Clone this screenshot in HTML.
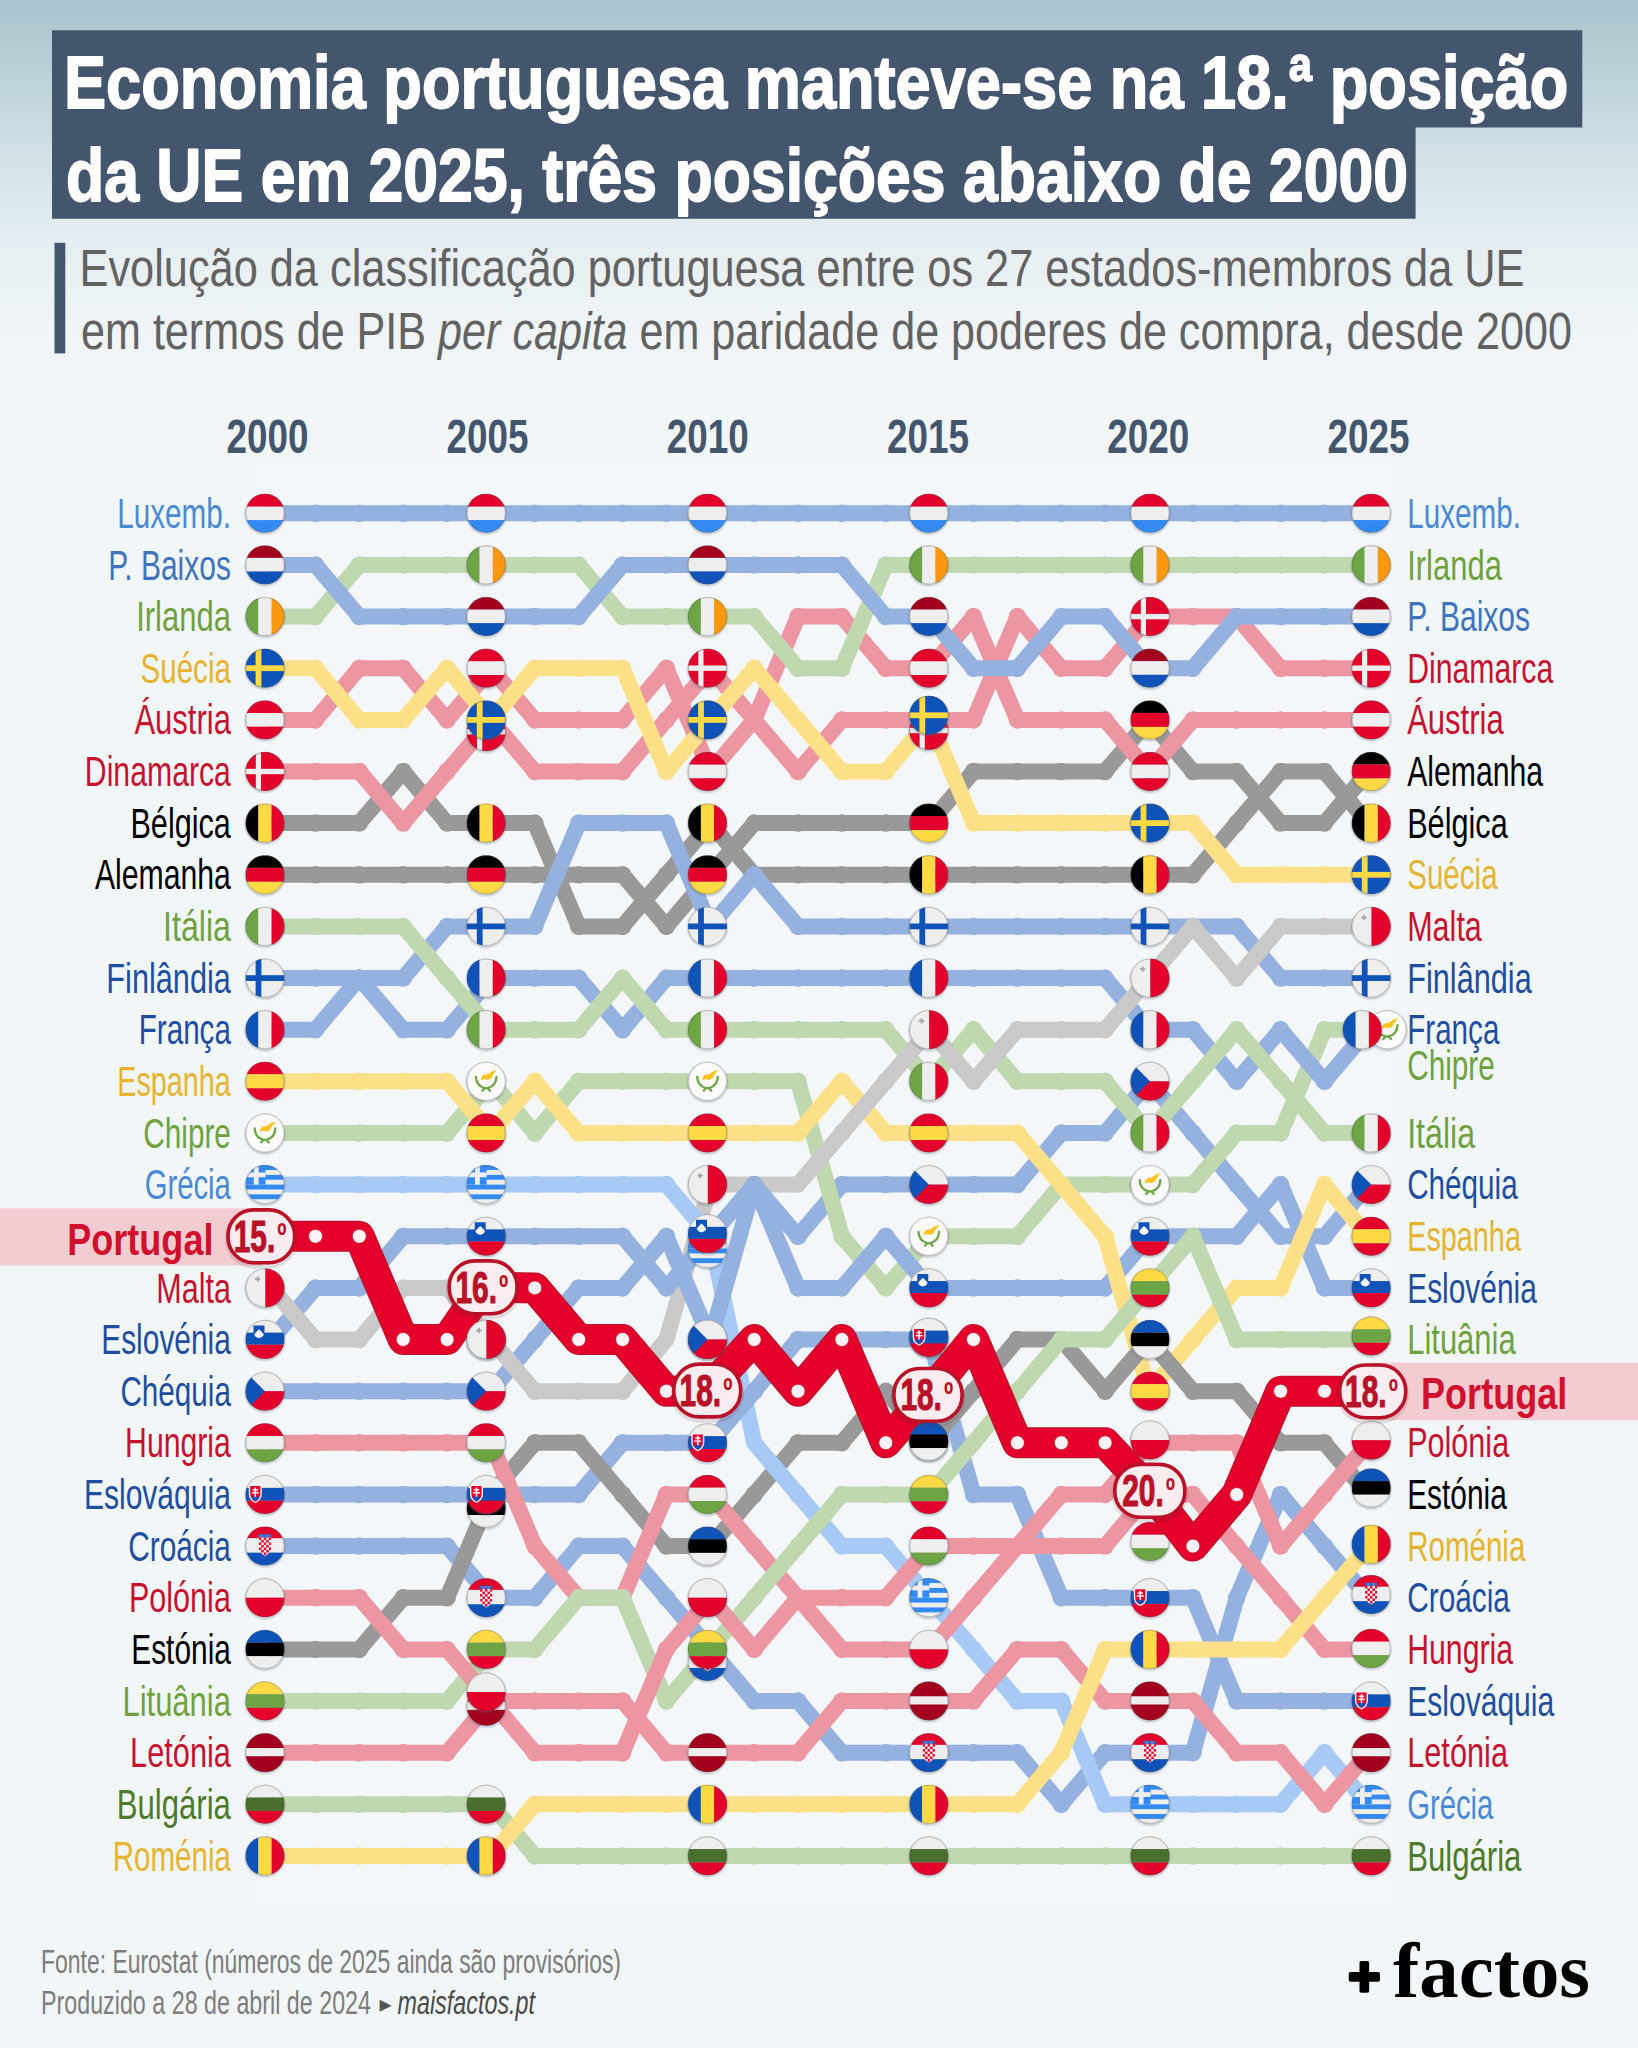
<!DOCTYPE html><html lang="pt"><head><meta charset="utf-8"><title>Economia portuguesa manteve-se na 18.ª posição da UE em 2025</title>
<style>html,body{margin:0;padding:0;background:#f1f6f9}svg{display:block}text{white-space:pre}</style></head><body>
<svg width="1638" height="2048" viewBox="0 0 1638 2048">
<defs>
<linearGradient id="bg" x1="0" y1="0" x2="0" y2="1"><stop offset="0" stop-color="#a9c4cd"/><stop offset=".2" stop-color="#bdd2d9"/><stop offset=".4" stop-color="#d3e2e7"/><stop offset=".6" stop-color="#e5eef2"/><stop offset=".8" stop-color="#eef4f7"/><stop offset="1" stop-color="#f1f6f9"/></linearGradient>
<marker id="mk0" markerUnits="userSpaceOnUse" markerWidth="18" markerHeight="18" refX="9" refY="9"><circle cx="9" cy="9" r="8.75" fill="#94b1df"/></marker>
<marker id="mk1" markerUnits="userSpaceOnUse" markerWidth="18" markerHeight="18" refX="9" refY="9"><circle cx="9" cy="9" r="8.75" fill="#999999"/></marker>
<marker id="mk2" markerUnits="userSpaceOnUse" markerWidth="18" markerHeight="18" refX="9" refY="9"><circle cx="9" cy="9" r="8.75" fill="#a6c9f5"/></marker>
<marker id="mk3" markerUnits="userSpaceOnUse" markerWidth="18" markerHeight="18" refX="9" refY="9"><circle cx="9" cy="9" r="8.75" fill="#bfd8b0"/></marker>
<marker id="mk4" markerUnits="userSpaceOnUse" markerWidth="18" markerHeight="18" refX="9" refY="9"><circle cx="9" cy="9" r="8.75" fill="#c9c9c9"/></marker>
<marker id="mk5" markerUnits="userSpaceOnUse" markerWidth="18" markerHeight="18" refX="9" refY="9"><circle cx="9" cy="9" r="8.75" fill="#ec96a2"/></marker>
<marker id="mk6" markerUnits="userSpaceOnUse" markerWidth="18" markerHeight="18" refX="9" refY="9"><circle cx="9" cy="9" r="8.75" fill="#fde088"/></marker>
<clipPath id="fc"><circle r="19.5"/></clipPath><g id="f0"><circle r="21.1" fill="#5a6670" opacity=".13" cy="1.2"/><circle r="20.2" fill="#5a6670" opacity=".16" cy=".8"/><g clip-path="url(#fc)"><rect x="-19.5" y="-19.5" width="39" height="12.9" fill="#e3002b"/><rect x="-19.5" y="-6.6" width="39" height="13.4" fill="#eeeeee"/><rect x="-19.5" y="6.8" width="39" height="12.7" fill="#338af3"/></g><circle r="19.1" fill="none" stroke="#555" stroke-opacity=".38" stroke-width=".9"/></g><g id="f1"><circle r="21.1" fill="#5a6670" opacity=".13" cy="1.2"/><circle r="20.2" fill="#5a6670" opacity=".16" cy=".8"/><g clip-path="url(#fc)"><rect x="-19.5" y="-19.5" width="39" height="12.5" fill="#a2001d"/><rect x="-19.5" y="-7" width="39" height="13.6" fill="#eeeeee"/><rect x="-19.5" y="6.6" width="39" height="12.9" fill="#1053b8"/></g><circle r="19.1" fill="none" stroke="#555" stroke-opacity=".38" stroke-width=".9"/></g><g id="f2"><circle r="21.1" fill="#5a6670" opacity=".13" cy="1.2"/><circle r="20.2" fill="#5a6670" opacity=".16" cy=".8"/><g clip-path="url(#fc)"><rect x="-19.5" y="-19.5" width="12.9" height="39" fill="#6da544"/><rect x="-6.6" y="-19.5" width="13.2" height="39" fill="#eeeeee"/><rect x="6.6" y="-19.5" width="12.9" height="39" fill="#ff9811"/></g><circle r="19.1" fill="none" stroke="#555" stroke-opacity=".38" stroke-width=".9"/></g><g id="f3"><circle r="21.1" fill="#5a6670" opacity=".13" cy="1.2"/><circle r="20.2" fill="#5a6670" opacity=".16" cy=".8"/><g clip-path="url(#fc)"><rect x="-19.5" y="-19.5" width="39" height="39" fill="#1053b8"/><rect x="-9.4" y="-19.5" width="5.8" height="39" fill="#ffda44"/><rect x="-19.5" y="-2.9" width="39" height="5.8" fill="#ffda44"/></g><circle r="19.1" fill="none" stroke="#555" stroke-opacity=".38" stroke-width=".9"/></g><g id="f4"><circle r="21.1" fill="#5a6670" opacity=".13" cy="1.2"/><circle r="20.2" fill="#5a6670" opacity=".16" cy=".8"/><g clip-path="url(#fc)"><rect x="-19.5" y="-19.5" width="39" height="12.7" fill="#e3002b"/><rect x="-19.5" y="-6.8" width="39" height="13.6" fill="#eeeeee"/><rect x="-19.5" y="6.8" width="39" height="12.7" fill="#e3002b"/></g><circle r="19.1" fill="none" stroke="#555" stroke-opacity=".38" stroke-width=".9"/></g><g id="f5"><circle r="21.1" fill="#5a6670" opacity=".13" cy="1.2"/><circle r="20.2" fill="#5a6670" opacity=".16" cy=".8"/><g clip-path="url(#fc)"><rect x="-19.5" y="-19.5" width="39" height="39" fill="#e3002b"/><rect x="-9.2" y="-19.5" width="5.2" height="39" fill="#eeeeee"/><rect x="-19.5" y="-2.7" width="39" height="5.4" fill="#eeeeee"/></g><circle r="19.1" fill="none" stroke="#555" stroke-opacity=".38" stroke-width=".9"/></g><g id="f6"><circle r="21.1" fill="#5a6670" opacity=".13" cy="1.2"/><circle r="20.2" fill="#5a6670" opacity=".16" cy=".8"/><g clip-path="url(#fc)"><rect x="-19.5" y="-19.5" width="12.9" height="39" fill="#000000"/><rect x="-6.6" y="-19.5" width="13.2" height="39" fill="#ffda44"/><rect x="6.6" y="-19.5" width="12.9" height="39" fill="#e3002b"/></g><circle r="19.1" fill="none" stroke="#555" stroke-opacity=".38" stroke-width=".9"/></g><g id="f7"><circle r="21.1" fill="#5a6670" opacity=".13" cy="1.2"/><circle r="20.2" fill="#5a6670" opacity=".16" cy=".8"/><g clip-path="url(#fc)"><rect x="-19.5" y="-19.5" width="39" height="12.5" fill="#000000"/><rect x="-19.5" y="-7" width="39" height="14" fill="#e3002b"/><rect x="-19.5" y="7" width="39" height="12.5" fill="#ffda44"/></g><circle r="19.1" fill="none" stroke="#555" stroke-opacity=".38" stroke-width=".9"/></g><g id="f8"><circle r="21.1" fill="#5a6670" opacity=".13" cy="1.2"/><circle r="20.2" fill="#5a6670" opacity=".16" cy=".8"/><g clip-path="url(#fc)"><rect x="-19.5" y="-19.5" width="12.9" height="39" fill="#6da544"/><rect x="-6.6" y="-19.5" width="13.2" height="39" fill="#eeeeee"/><rect x="6.6" y="-19.5" width="12.9" height="39" fill="#e3002b"/></g><circle r="19.1" fill="none" stroke="#555" stroke-opacity=".38" stroke-width=".9"/></g><g id="f9"><circle r="21.1" fill="#5a6670" opacity=".13" cy="1.2"/><circle r="20.2" fill="#5a6670" opacity=".16" cy=".8"/><g clip-path="url(#fc)"><rect x="-19.5" y="-19.5" width="39" height="39" fill="#eeeeee"/><rect x="-9.4" y="-19.5" width="5.8" height="39" fill="#1053b8"/><rect x="-19.5" y="-2.9" width="39" height="5.8" fill="#1053b8"/></g><circle r="19.1" fill="none" stroke="#555" stroke-opacity=".38" stroke-width=".9"/></g><g id="f10"><circle r="21.1" fill="#5a6670" opacity=".13" cy="1.2"/><circle r="20.2" fill="#5a6670" opacity=".16" cy=".8"/><g clip-path="url(#fc)"><rect x="-19.5" y="-19.5" width="12.9" height="39" fill="#1053b8"/><rect x="-6.6" y="-19.5" width="13.2" height="39" fill="#eeeeee"/><rect x="6.6" y="-19.5" width="12.9" height="39" fill="#e3002b"/></g><circle r="19.1" fill="none" stroke="#555" stroke-opacity=".38" stroke-width=".9"/></g><g id="f11"><circle r="21.1" fill="#5a6670" opacity=".13" cy="1.2"/><circle r="20.2" fill="#5a6670" opacity=".16" cy=".8"/><g clip-path="url(#fc)"><rect x="-19.5" y="-19.5" width="39" height="12.5" fill="#e3002b"/><rect x="-19.5" y="-7" width="39" height="14" fill="#ffda44"/><rect x="-19.5" y="7" width="39" height="12.5" fill="#e3002b"/></g><circle r="19.1" fill="none" stroke="#555" stroke-opacity=".38" stroke-width=".9"/></g><g id="f12"><circle r="21.1" fill="#5a6670" opacity=".13" cy="1.2"/><circle r="20.2" fill="#5a6670" opacity=".16" cy=".8"/><g clip-path="url(#fc)"><rect x="-19.5" y="-19.5" width="39" height="39" fill="#fbfbfb"/><path d="M-5.5 -2.6 L-3 -6.2 L1.5 -7 L6 -10 L10.8 -11.6 L8 -8 L6.2 -5.6 L5 -3 L1.5 -1.4 L-2 -2.2 L-4 -1.2 Z" fill="#ffc21f"/><path d="M-10.3 -4.5 Q-10 4.6 -1.5 6.8 L-3.8 9.4 M10.3 -4.5 Q10 4.6 1.5 6.8 L3.8 9.4 M-1.5 6.8 L1.5 6.8" fill="none" stroke="#6da544" stroke-width="2.3" stroke-linecap="round" stroke-linejoin="round"/></g><circle r="19.1" fill="none" stroke="#555" stroke-opacity=".38" stroke-width=".9"/></g><g id="f13"><circle r="21.1" fill="#5a6670" opacity=".13" cy="1.2"/><circle r="20.2" fill="#5a6670" opacity=".16" cy=".8"/><g clip-path="url(#fc)"><rect x="-19.5" y="-19.5" width="39" height="39" fill="#eeeeee"/><rect x="-19.5" y="-19.5" width="39" height="4.875" fill="#338af3"/><rect x="-19.5" y="-9.75" width="39" height="4.875" fill="#338af3"/><rect x="-19.5" y="0" width="39" height="4.875" fill="#338af3"/><rect x="-19.5" y="9.75" width="39" height="4.875" fill="#338af3"/><rect x="-19.5" y="-19.5" width="20" height="19.5" fill="#338af3"/><rect x="-11.2" y="-19.5" width="4.8" height="19.5" fill="#eeeeee"/><rect x="-19.5" y="-12.1875" width="20" height="4.875" fill="#eeeeee"/></g><circle r="19.1" fill="none" stroke="#555" stroke-opacity=".38" stroke-width=".9"/></g><g id="f14"><circle r="21.1" fill="#5a6670" opacity=".13" cy="1.2"/><circle r="20.2" fill="#5a6670" opacity=".16" cy=".8"/><g clip-path="url(#fc)"><rect x="-19.5" y="-19.5" width="19.8" height="39" fill="#eeeeee"/><rect x="0.3" y="-19.5" width="19.5" height="39" fill="#e3002b"/><rect x="-8.1" y="-11.6" width="1.6" height="5.4" fill="#a0a0a0"/><rect x="-10" y="-9.7" width="5.4" height="1.6" fill="#a0a0a0"/></g><circle r="19.1" fill="none" stroke="#555" stroke-opacity=".38" stroke-width=".9"/></g><g id="f15"><circle r="21.1" fill="#5a6670" opacity=".13" cy="1.2"/><circle r="20.2" fill="#5a6670" opacity=".16" cy=".8"/><g clip-path="url(#fc)"><rect x="-19.5" y="-19.5" width="39" height="12.7" fill="#eeeeee"/><rect x="-19.5" y="-6.8" width="39" height="12" fill="#1053b8"/><rect x="-19.5" y="5.2" width="39" height="14.3" fill="#e3002b"/><path d="M-11.5 -14 H-0.5 V-6.5 Q-0.5 -1.8 -6 -0.5 Q-11.5 -1.8 -11.5 -6.5 Z" fill="#1053b8"/><path d="M-10.8 -5.2 L-8.3 -8 L-6 -10.2 L-3.7 -8 L-1.2 -5.2 Q-1.8 -2.4 -6 -1.3 Q-10.2 -2.4 -10.8 -5.2 Z" fill="#f4f4f4"/></g><circle r="19.1" fill="none" stroke="#555" stroke-opacity=".38" stroke-width=".9"/></g><g id="f16"><circle r="21.1" fill="#5a6670" opacity=".13" cy="1.2"/><circle r="20.2" fill="#5a6670" opacity=".16" cy=".8"/><g clip-path="url(#fc)"><rect x="-19.5" y="-19.5" width="39" height="19.5" fill="#eeeeee"/><rect x="-19.5" y="0" width="39" height="19.5" fill="#e3002b"/><path d="M-19.5 -19.5 L0 0 L-19.5 19.5 Z" fill="#1053b8"/></g><circle r="19.1" fill="none" stroke="#555" stroke-opacity=".38" stroke-width=".9"/></g><g id="f17"><circle r="21.1" fill="#5a6670" opacity=".13" cy="1.2"/><circle r="20.2" fill="#5a6670" opacity=".16" cy=".8"/><g clip-path="url(#fc)"><rect x="-19.5" y="-19.5" width="39" height="12.7" fill="#e3002b"/><rect x="-19.5" y="-6.8" width="39" height="13.4" fill="#eeeeee"/><rect x="-19.5" y="6.6" width="39" height="12.9" fill="#6da544"/></g><circle r="19.1" fill="none" stroke="#555" stroke-opacity=".38" stroke-width=".9"/></g><g id="f18"><circle r="21.1" fill="#5a6670" opacity=".13" cy="1.2"/><circle r="20.2" fill="#5a6670" opacity=".16" cy=".8"/><g clip-path="url(#fc)"><rect x="-19.5" y="-19.5" width="39" height="12.9" fill="#eeeeee"/><rect x="-19.5" y="-6.6" width="39" height="12.8" fill="#1053b8"/><rect x="-19.5" y="6.2" width="39" height="13.3" fill="#e3002b"/><path d="M-16.2 -9.8 H-3.2 V-0.8 Q-3.2 5.8 -9.7 8.4 Q-16.2 5.8 -16.2 -0.8 Z" fill="#f2f2f2"/><path d="M-14.8 -8.4 H-4.6 V-0.8 Q-4.6 4.8 -9.7 6.9 Q-14.8 4.8 -14.8 -0.8 Z" fill="#e3002b"/><path d="M-13.6 3 Q-9.7 0.6 -5.8 3 Q-7.4 5.8 -9.7 6.9 Q-12 5.8 -13.6 3 Z" fill="#1053b8"/><rect x="-10.5" y="-7" width="1.6" height="9.2" fill="#f2f2f2"/><rect x="-12.4" y="-5.4" width="5.4" height="1.5" fill="#f2f2f2"/><rect x="-13.2" y="-2.4" width="7" height="1.5" fill="#f2f2f2"/></g><circle r="19.1" fill="none" stroke="#555" stroke-opacity=".38" stroke-width=".9"/></g><g id="f19"><circle r="21.1" fill="#5a6670" opacity=".13" cy="1.2"/><circle r="20.2" fill="#5a6670" opacity=".16" cy=".8"/><g clip-path="url(#fc)"><rect x="-19.5" y="-19.5" width="39" height="11.7" fill="#e3002b"/><rect x="-19.5" y="-7.8" width="39" height="14.4" fill="#eeeeee"/><rect x="-19.5" y="6.6" width="39" height="12.9" fill="#1053b8"/><path d="M-6.25 -8.6 H6.25 V0.40000000000000036 Q6.25 6.9 0 9.9 Q-6.25 6.9 -6.25 0.40000000000000036 Z" fill="#f4f4f4"/><clipPath id="hrsh"><path d="M-6.25 -8.6 H6.25 V0.4 Q6.25 6.9 0 9.9 Q-6.25 6.9 -6.25 0.4 Z"/></clipPath><g clip-path="url(#hrsh)"><rect x="-6.25" y="-8.6" width="2.5" height="2.5" fill="#e3002b"/><rect x="-6.25" y="-3.6" width="2.5" height="2.5" fill="#e3002b"/><rect x="-6.25" y="1.4" width="2.5" height="2.5" fill="#e3002b"/><rect x="-6.25" y="6.4" width="2.5" height="2.5" fill="#e3002b"/><rect x="-3.75" y="-6.1" width="2.5" height="2.5" fill="#e3002b"/><rect x="-3.75" y="-1.1" width="2.5" height="2.5" fill="#e3002b"/><rect x="-3.75" y="3.9" width="2.5" height="2.5" fill="#e3002b"/><rect x="-3.75" y="8.9" width="2.5" height="2.5" fill="#e3002b"/><rect x="-1.25" y="-8.6" width="2.5" height="2.5" fill="#e3002b"/><rect x="-1.25" y="-3.6" width="2.5" height="2.5" fill="#e3002b"/><rect x="-1.25" y="1.4" width="2.5" height="2.5" fill="#e3002b"/><rect x="-1.25" y="6.4" width="2.5" height="2.5" fill="#e3002b"/><rect x="1.25" y="-6.1" width="2.5" height="2.5" fill="#e3002b"/><rect x="1.25" y="-1.1" width="2.5" height="2.5" fill="#e3002b"/><rect x="1.25" y="3.9" width="2.5" height="2.5" fill="#e3002b"/><rect x="1.25" y="8.9" width="2.5" height="2.5" fill="#e3002b"/><rect x="3.75" y="-8.6" width="2.5" height="2.5" fill="#e3002b"/><rect x="3.75" y="-3.6" width="2.5" height="2.5" fill="#e3002b"/><rect x="3.75" y="1.4" width="2.5" height="2.5" fill="#e3002b"/><rect x="3.75" y="6.4" width="2.5" height="2.5" fill="#e3002b"/></g><rect x="-6.45" y="-12.2" width="2.4" height="3.2" fill="#2f6fd0"/><rect x="-3.95" y="-11.6" width="2.4" height="3.2" fill="#4d8be0"/><rect x="-1.45" y="-12.2" width="2.4" height="3.2" fill="#2f6fd0"/><rect x="1.05" y="-11.6" width="2.4" height="3.2" fill="#4d8be0"/><rect x="3.55" y="-12.2" width="2.4" height="3.2" fill="#2f6fd0"/></g><circle r="19.1" fill="none" stroke="#555" stroke-opacity=".38" stroke-width=".9"/></g><g id="f20"><circle r="21.1" fill="#5a6670" opacity=".13" cy="1.2"/><circle r="20.2" fill="#5a6670" opacity=".16" cy=".8"/><g clip-path="url(#fc)"><rect x="-19.5" y="-19.5" width="39" height="19.5" fill="#eeeeee"/><rect x="-19.5" y="0" width="39" height="19.5" fill="#e3002b"/></g><circle r="19.1" fill="none" stroke="#555" stroke-opacity=".38" stroke-width=".9"/></g><g id="f21"><circle r="21.1" fill="#5a6670" opacity=".13" cy="1.2"/><circle r="20.2" fill="#5a6670" opacity=".16" cy=".8"/><g clip-path="url(#fc)"><rect x="-19.5" y="-19.5" width="39" height="12.7" fill="#1053b8"/><rect x="-19.5" y="-6.8" width="39" height="13.6" fill="#000000"/><rect x="-19.5" y="6.8" width="39" height="12.7" fill="#eeeeee"/></g><circle r="19.1" fill="none" stroke="#555" stroke-opacity=".38" stroke-width=".9"/></g><g id="f22"><circle r="21.1" fill="#5a6670" opacity=".13" cy="1.2"/><circle r="20.2" fill="#5a6670" opacity=".16" cy=".8"/><g clip-path="url(#fc)"><rect x="-19.5" y="-19.5" width="39" height="12.7" fill="#ffda44"/><rect x="-19.5" y="-6.8" width="39" height="13.6" fill="#6da544"/><rect x="-19.5" y="6.8" width="39" height="12.7" fill="#e3002b"/></g><circle r="19.1" fill="none" stroke="#555" stroke-opacity=".38" stroke-width=".9"/></g><g id="f23"><circle r="21.1" fill="#5a6670" opacity=".13" cy="1.2"/><circle r="20.2" fill="#5a6670" opacity=".16" cy=".8"/><g clip-path="url(#fc)"><rect x="-19.5" y="-19.5" width="39" height="14.9" fill="#a2001d"/><rect x="-19.5" y="-4.6" width="39" height="8.2" fill="#eeeeee"/><rect x="-19.5" y="3.6" width="39" height="15.9" fill="#a2001d"/></g><circle r="19.1" fill="none" stroke="#555" stroke-opacity=".38" stroke-width=".9"/></g><g id="f24"><circle r="21.1" fill="#5a6670" opacity=".13" cy="1.2"/><circle r="20.2" fill="#5a6670" opacity=".16" cy=".8"/><g clip-path="url(#fc)"><rect x="-19.5" y="-19.5" width="39" height="12.7" fill="#eeeeee"/><rect x="-19.5" y="-6.8" width="39" height="13.4" fill="#496e2d"/><rect x="-19.5" y="6.6" width="39" height="12.9" fill="#e3002b"/></g><circle r="19.1" fill="none" stroke="#555" stroke-opacity=".38" stroke-width=".9"/></g><g id="f25"><circle r="21.1" fill="#5a6670" opacity=".13" cy="1.2"/><circle r="20.2" fill="#5a6670" opacity=".16" cy=".8"/><g clip-path="url(#fc)"><rect x="-19.5" y="-19.5" width="12.9" height="39" fill="#1053b8"/><rect x="-6.6" y="-19.5" width="13.2" height="39" fill="#ffda44"/><rect x="6.6" y="-19.5" width="12.9" height="39" fill="#e3002b"/></g><circle r="19.1" fill="none" stroke="#555" stroke-opacity=".38" stroke-width=".9"/></g>
</defs>
<rect width="1638" height="2048" fill="#f1f6f9"/>
<rect width="1638" height="400" fill="url(#bg)"/>
<rect x="250" y="462" width="1142" height="1443.5" fill="#ffffff" opacity=".2"/>
<path d="M52 30.3H1582.3V127.5H1415.6V218.7H52Z" fill="#44556e"/>
<text x="64" y="108.2" font-family="'Liberation Sans', sans-serif" font-size="75" font-weight="bold" fill="#ffffff" text-anchor="start" textLength="1504.4" lengthAdjust="spacingAndGlyphs" stroke="#ffffff" stroke-width="1.8" stroke-linejoin="round">Economia portuguesa manteve-se na 18.ª posição</text>
<text x="66" y="201.2" font-family="'Liberation Sans', sans-serif" font-size="75" font-weight="bold" fill="#ffffff" text-anchor="start" textLength="1342" lengthAdjust="spacingAndGlyphs" stroke="#ffffff" stroke-width="1.8" stroke-linejoin="round">da UE em 2025, três posições abaixo de 2000</text>
<rect x="54.5" y="242.8" width="10.8" height="110.6" fill="#44556e"/>
<text x="79.5" y="286.3" font-family="'Liberation Sans', sans-serif" font-size="52.4" font-weight="normal" fill="#626262" text-anchor="start" textLength="1445" lengthAdjust="spacingAndGlyphs">Evolução da classificação portuguesa entre os 27 estados-membros da UE</text>
<text x="81" y="349" font-family="'Liberation Sans', sans-serif" font-size="52.4" font-weight="normal" fill="#626262" text-anchor="start" textLength="1491" lengthAdjust="spacingAndGlyphs">em termos de PIB <tspan font-style="italic">per capita</tspan> em paridade de poderes de compra, desde 2000</text>
<text x="267.4" y="452.8" font-family="'Liberation Sans', sans-serif" font-size="49" font-weight="bold" fill="#44556e" text-anchor="middle" textLength="82" lengthAdjust="spacingAndGlyphs">2000</text>
<text x="487.6" y="452.8" font-family="'Liberation Sans', sans-serif" font-size="49" font-weight="bold" fill="#44556e" text-anchor="middle" textLength="82" lengthAdjust="spacingAndGlyphs">2005</text>
<text x="707.8" y="452.8" font-family="'Liberation Sans', sans-serif" font-size="49" font-weight="bold" fill="#44556e" text-anchor="middle" textLength="82" lengthAdjust="spacingAndGlyphs">2010</text>
<text x="928" y="452.8" font-family="'Liberation Sans', sans-serif" font-size="49" font-weight="bold" fill="#44556e" text-anchor="middle" textLength="82" lengthAdjust="spacingAndGlyphs">2015</text>
<text x="1148.2" y="452.8" font-family="'Liberation Sans', sans-serif" font-size="49" font-weight="bold" fill="#44556e" text-anchor="middle" textLength="82" lengthAdjust="spacingAndGlyphs">2020</text>
<text x="1368.4" y="452.8" font-family="'Liberation Sans', sans-serif" font-size="49" font-weight="bold" fill="#44556e" text-anchor="middle" textLength="82" lengthAdjust="spacingAndGlyphs">2025</text>
<rect x="0" y="1208.4" width="262" height="57.2" fill="#f3ccd2"/>
<rect x="1372" y="1362.6" width="266" height="57.6" fill="#f3ccd2"/>
<g fill="none" stroke-width="16" stroke-linejoin="round" stroke-linecap="round">
<polyline points="710.3,1236.3 754.2,1442.8" stroke="#a6c9f5" marker-mid="url(#mk2)"/>
<polyline points="666.4,1339.5 710.3,1184.6 754.2,1184.6 798.0,1184.6" stroke="#c9c9c9" marker-mid="url(#mk4)"/>
<polyline points="271.6,874.8 315.5,874.8 359.3,874.8 403.2,874.8 447.1,874.8 491.0,874.8 534.8,874.8 578.7,874.8 622.6,874.8 666.4,926.4 710.3,874.8 754.2,823.1 798.0,823.1 841.9,823.1 885.8,823.1 929.6,823.1 973.5,771.5 1017.4,771.5 1061.3,771.5 1105.1,771.5 1149.0,719.9 1192.9,771.5 1236.7,771.5 1280.6,823.1 1324.5,823.1 1368.3,771.5" stroke="#999999" marker-mid="url(#mk1)"/>
<polyline points="271.6,719.9 315.5,719.9 359.3,668.2 403.2,668.2 447.1,719.9 491.0,668.2 534.8,719.9 578.7,719.9 622.6,719.9 666.4,668.2 710.3,771.5 754.2,719.9 798.0,616.6 841.9,616.6 885.8,668.2 929.6,668.2 973.5,616.6 1017.4,719.9 1061.3,719.9 1105.1,719.9 1149.0,771.5 1192.9,719.9 1236.7,719.9 1280.6,719.9 1324.5,719.9 1368.3,719.9" stroke="#ec96a2" marker-mid="url(#mk5)"/>
<polyline points="271.6,823.1 315.5,823.1 359.3,823.1 403.2,771.5 447.1,823.1 491.0,823.1 534.8,823.1 578.7,926.4 622.6,926.4 666.4,874.8 710.3,823.1 754.2,874.8 798.0,874.8 841.9,874.8 885.8,874.8 929.6,874.8 973.5,874.8 1017.4,874.8 1061.3,874.8 1105.1,874.8 1149.0,874.8 1192.9,874.8 1236.7,823.1 1280.6,771.5 1324.5,771.5 1368.3,823.1" stroke="#999999" marker-mid="url(#mk1)"/>
<polyline points="271.6,1804.3 315.5,1804.3 359.3,1804.3 403.2,1804.3 447.1,1804.3 491.0,1804.3 534.8,1855.9 578.7,1855.9 622.6,1855.9 666.4,1855.9 710.3,1855.9 754.2,1855.9 798.0,1855.9 841.9,1855.9 885.8,1855.9 929.6,1855.9 973.5,1855.9 1017.4,1855.9 1061.3,1855.9 1105.1,1855.9 1149.0,1855.9 1192.9,1855.9 1236.7,1855.9 1280.6,1855.9 1324.5,1855.9 1368.3,1855.9" stroke="#bfd8b0" marker-mid="url(#mk3)"/>
<polyline points="271.6,1391.2 315.5,1391.2 359.3,1391.2 403.2,1391.2 447.1,1391.2 491.0,1391.2 534.8,1339.5 578.7,1287.9 622.6,1287.9 666.4,1236.3 710.3,1339.5 754.2,1184.6 798.0,1236.3 841.9,1184.6 885.8,1184.6 929.6,1184.6 973.5,1184.6 1017.4,1184.6 1061.3,1133.0 1105.1,1133.0 1149.0,1081.3 1192.9,1133.0 1236.7,1184.6 1280.6,1236.3 1324.5,1236.3 1368.3,1184.6" stroke="#94b1df" marker-mid="url(#mk0)"/>
<polyline points="271.6,1133.0 315.5,1133.0 359.3,1133.0 403.2,1133.0 447.1,1133.0 491.0,1081.3 534.8,1133.0 578.7,1081.3 622.6,1081.3 666.4,1081.3 710.3,1081.3 754.2,1081.3 798.0,1081.3 841.9,1236.3 885.8,1287.9 929.6,1236.3 973.5,1236.3 1017.4,1236.3 1061.3,1184.6 1105.1,1184.6 1149.0,1184.6 1192.9,1184.6 1236.7,1133.0 1280.6,1133.0 1324.5,1029.7 1368.3,1029.7" stroke="#bfd8b0" marker-mid="url(#mk3)"/>
<polyline points="271.6,1546.1 315.5,1546.1 359.3,1546.1 403.2,1546.1 447.1,1546.1 491.0,1597.7 534.8,1597.7 578.7,1546.1 622.6,1546.1 666.4,1597.7 710.3,1649.4 754.2,1701.0 798.0,1701.0 841.9,1752.7 885.8,1752.7 929.6,1752.7 973.5,1752.7 1017.4,1752.7 1061.3,1804.3 1105.1,1752.7 1149.0,1752.7 1192.9,1752.7 1236.7,1597.7 1280.6,1494.5 1324.5,1546.1 1368.3,1597.7" stroke="#94b1df" marker-mid="url(#mk0)"/>
<polyline points="271.6,771.5 315.5,771.5 359.3,771.5 403.2,823.1 447.1,771.5 491.0,719.9 534.8,771.5 578.7,771.5 622.6,771.5 666.4,719.9 710.3,668.2 754.2,719.9 798.0,771.5 841.9,719.9 885.8,719.9 929.6,719.9 973.5,719.9 1017.4,616.6 1061.3,668.2 1105.1,668.2 1149.0,616.6 1192.9,616.6 1236.7,616.6 1280.6,668.2 1324.5,668.2 1368.3,668.2" stroke="#ec96a2" marker-mid="url(#mk5)"/>
<polyline points="271.6,1494.5 315.5,1494.5 359.3,1494.5 403.2,1494.5 447.1,1494.5 491.0,1494.5 534.8,1494.5 578.7,1494.5 622.6,1442.8 666.4,1442.8 710.3,1442.8 754.2,1391.2 798.0,1339.5 841.9,1339.5 885.8,1339.5 929.6,1339.5 973.5,1494.5 1017.4,1494.5 1061.3,1597.7 1105.1,1597.7 1149.0,1597.7 1192.9,1597.7 1236.7,1701.0 1280.6,1701.0 1324.5,1701.0 1368.3,1701.0" stroke="#94b1df" marker-mid="url(#mk0)"/>
<polyline points="271.6,1339.5 315.5,1287.9 359.3,1287.9 403.2,1236.3 447.1,1236.3 491.0,1236.3 534.8,1236.3 578.7,1236.3 622.6,1236.3 666.4,1287.9 710.3,1236.3 754.2,1184.6 798.0,1287.9 841.9,1287.9 885.8,1236.3 929.6,1287.9 973.5,1287.9 1017.4,1287.9 1061.3,1287.9 1105.1,1287.9 1149.0,1236.3 1192.9,1236.3 1236.7,1236.3 1280.6,1184.6 1324.5,1287.9 1368.3,1287.9" stroke="#94b1df" marker-mid="url(#mk0)"/>
<polyline points="271.6,1081.3 315.5,1081.3 359.3,1081.3 403.2,1081.3 447.1,1081.3 491.0,1133.0 534.8,1081.3 578.7,1133.0 622.6,1133.0 666.4,1133.0 710.3,1133.0 754.2,1133.0 798.0,1133.0 841.9,1081.3 885.8,1133.0 929.6,1133.0 973.5,1133.0 1017.4,1133.0 1061.3,1184.6 1105.1,1236.3 1149.0,1391.2 1192.9,1339.5 1236.7,1287.9 1280.6,1287.9 1324.5,1184.6 1368.3,1236.3" stroke="#fde088" marker-mid="url(#mk6)"/>
<polyline points="271.6,1649.4 315.5,1649.4 359.3,1649.4 403.2,1597.7 447.1,1597.7 491.0,1494.5 534.8,1442.8 578.7,1442.8 622.6,1494.5 666.4,1546.1 710.3,1546.1 754.2,1494.5 798.0,1442.8 841.9,1442.8 885.8,1391.2 929.6,1442.8 973.5,1391.2 1017.4,1339.5 1061.3,1339.5 1105.1,1391.2 1149.0,1339.5 1192.9,1391.2 1236.7,1391.2 1280.6,1442.8 1324.5,1442.8 1368.3,1494.5" stroke="#999999" marker-mid="url(#mk1)"/>
<polyline points="271.6,978.1 315.5,978.1 359.3,978.1 403.2,978.1 447.1,926.4 491.0,926.4 534.8,926.4 578.7,823.1 622.6,823.1 666.4,823.1 710.3,926.4 754.2,874.8 798.0,926.4 841.9,926.4 885.8,926.4 929.6,926.4 973.5,926.4 1017.4,926.4 1061.3,926.4 1105.1,926.4 1149.0,926.4 1192.9,926.4 1236.7,926.4 1280.6,978.1 1324.5,978.1 1368.3,978.1" stroke="#94b1df" marker-mid="url(#mk0)"/>
<polyline points="271.6,1029.7 315.5,1029.7 359.3,978.1 403.2,1029.7 447.1,1029.7 491.0,978.1 534.8,978.1 578.7,978.1 622.6,1029.7 666.4,978.1 710.3,978.1 754.2,978.1 798.0,978.1 841.9,978.1 885.8,978.1 929.6,978.1 973.5,978.1 1017.4,978.1 1061.3,978.1 1105.1,978.1 1149.0,1029.7 1192.9,1029.7 1236.7,1081.3 1280.6,1029.7 1324.5,1081.3 1368.3,1029.7" stroke="#94b1df" marker-mid="url(#mk0)"/>
<polyline points="271.6,1184.6 315.5,1184.6 359.3,1184.6 403.2,1184.6 447.1,1184.6 491.0,1184.6 534.8,1184.6 578.7,1184.6 622.6,1184.6 666.4,1184.6 710.3,1236.3" stroke="#a6c9f5" marker-mid="url(#mk2)"/>
<polyline points="754.2,1442.8 798.0,1494.5 841.9,1546.1 885.8,1546.1 929.6,1597.7 973.5,1649.4 1017.4,1701.0 1061.3,1701.0 1105.1,1804.3 1149.0,1804.3 1192.9,1804.3 1236.7,1804.3 1280.6,1804.3 1324.5,1752.7 1368.3,1804.3" stroke="#a6c9f5" marker-mid="url(#mk2)"/>
<polyline points="271.6,1442.8 315.5,1442.8 359.3,1442.8 403.2,1442.8 447.1,1442.8 491.0,1442.8 534.8,1546.1 578.7,1597.7 622.6,1597.7 666.4,1494.5 710.3,1494.5 754.2,1546.1 798.0,1597.7 841.9,1597.7 885.8,1597.7 929.6,1546.1 973.5,1546.1 1017.4,1546.1 1061.3,1546.1 1105.1,1546.1 1149.0,1494.5 1192.9,1494.5 1236.7,1546.1 1280.6,1597.7 1324.5,1649.4 1368.3,1649.4" stroke="#ec96a2" marker-mid="url(#mk5)"/>
<polyline points="271.6,616.6 315.5,616.6 359.3,564.9 403.2,564.9 447.1,564.9 491.0,564.9 534.8,564.9 578.7,564.9 622.6,616.6 666.4,616.6 710.3,616.6 754.2,616.6 798.0,668.2 841.9,668.2 885.8,564.9 929.6,564.9 973.5,564.9 1017.4,564.9 1061.3,564.9 1105.1,564.9 1149.0,564.9 1192.9,564.9 1236.7,564.9 1280.6,564.9 1324.5,564.9 1368.3,564.9" stroke="#bfd8b0" marker-mid="url(#mk3)"/>
<polyline points="271.6,926.4 315.5,926.4 359.3,926.4 403.2,926.4 447.1,978.1 491.0,1029.7 534.8,1029.7 578.7,1029.7 622.6,978.1 666.4,1029.7 710.3,1029.7 754.2,1029.7 798.0,1029.7 841.9,1029.7 885.8,1029.7 929.6,1081.3 973.5,1029.7 1017.4,1081.3 1061.3,1081.3 1105.1,1081.3 1149.0,1133.0 1192.9,1081.3 1236.7,1029.7 1280.6,1081.3 1324.5,1133.0 1368.3,1133.0" stroke="#bfd8b0" marker-mid="url(#mk3)"/>
<polyline points="271.6,1752.7 315.5,1752.7 359.3,1752.7 403.2,1752.7 447.1,1752.7 491.0,1701.0 534.8,1701.0 578.7,1701.0 622.6,1701.0 666.4,1752.7 710.3,1752.7 754.2,1752.7 798.0,1752.7 841.9,1701.0 885.8,1701.0 929.6,1701.0 973.5,1701.0 1017.4,1649.4 1061.3,1649.4 1105.1,1701.0 1149.0,1701.0 1192.9,1701.0 1236.7,1752.7 1280.6,1752.7 1324.5,1804.3 1368.3,1752.7" stroke="#ec96a2" marker-mid="url(#mk5)"/>
<polyline points="271.6,1701.0 315.5,1701.0 359.3,1701.0 403.2,1701.0 447.1,1701.0 491.0,1649.4 534.8,1649.4 578.7,1597.7 622.6,1597.7 666.4,1701.0 710.3,1649.4 754.2,1597.7 798.0,1546.1 841.9,1494.5 885.8,1494.5 929.6,1494.5 973.5,1442.8 1017.4,1391.2 1061.3,1339.5 1105.1,1339.5 1149.0,1287.9 1192.9,1236.3 1236.7,1339.5 1280.6,1339.5 1324.5,1339.5 1368.3,1339.5" stroke="#bfd8b0" marker-mid="url(#mk3)"/>
<polyline points="271.6,513.3 315.5,513.3 359.3,513.3 403.2,513.3 447.1,513.3 491.0,513.3 534.8,513.3 578.7,513.3 622.6,513.3 666.4,513.3 710.3,513.3 754.2,513.3 798.0,513.3 841.9,513.3 885.8,513.3 929.6,513.3 973.5,513.3 1017.4,513.3 1061.3,513.3 1105.1,513.3 1149.0,513.3 1192.9,513.3 1236.7,513.3 1280.6,513.3 1324.5,513.3 1368.3,513.3" stroke="#94b1df" marker-mid="url(#mk0)"/>
<polyline points="271.6,1287.9 315.5,1339.5 359.3,1339.5 403.2,1287.9 447.1,1287.9 491.0,1339.5 534.8,1391.2 578.7,1391.2 622.6,1391.2 666.4,1339.5" stroke="#c9c9c9" marker-mid="url(#mk4)"/>
<polyline points="798.0,1184.6 841.9,1133.0 885.8,1081.3 929.6,1029.7 973.5,1081.3 1017.4,1029.7 1061.3,1029.7 1105.1,1029.7 1149.0,978.1 1192.9,926.4 1236.7,978.1 1280.6,926.4 1324.5,926.4 1368.3,926.4" stroke="#c9c9c9" marker-mid="url(#mk4)"/>
<polyline points="271.6,564.9 315.5,564.9 359.3,616.6 403.2,616.6 447.1,616.6 491.0,616.6 534.8,616.6 578.7,616.6 622.6,564.9 666.4,564.9 710.3,564.9 754.2,564.9 798.0,564.9 841.9,564.9 885.8,616.6 929.6,616.6 973.5,668.2 1017.4,668.2 1061.3,616.6 1105.1,616.6 1149.0,668.2 1192.9,668.2 1236.7,616.6 1280.6,616.6 1324.5,616.6 1368.3,616.6" stroke="#94b1df" marker-mid="url(#mk0)"/>
<polyline points="271.6,1597.7 315.5,1597.7 359.3,1597.7 403.2,1649.4 447.1,1649.4 491.0,1701.0 534.8,1752.7 578.7,1752.7 622.6,1752.7 666.4,1649.4 710.3,1597.7 754.2,1649.4 798.0,1597.7 841.9,1649.4 885.8,1649.4 929.6,1649.4 973.5,1597.7 1017.4,1546.1 1061.3,1494.5 1105.1,1494.5 1149.0,1442.8 1192.9,1442.8 1236.7,1442.8 1280.6,1546.1 1324.5,1494.5 1368.3,1442.8" stroke="#ec96a2" marker-mid="url(#mk5)"/>
<polyline points="271.6,1855.9 315.5,1855.9 359.3,1855.9 403.2,1855.9 447.1,1855.9 491.0,1855.9 534.8,1804.3 578.7,1804.3 622.6,1804.3 666.4,1804.3 710.3,1804.3 754.2,1804.3 798.0,1804.3 841.9,1804.3 885.8,1804.3 929.6,1804.3 973.5,1804.3 1017.4,1804.3 1061.3,1752.7 1105.1,1649.4 1149.0,1649.4 1192.9,1649.4 1236.7,1649.4 1280.6,1649.4 1324.5,1597.7 1368.3,1546.1" stroke="#fde088" marker-mid="url(#mk6)"/>
<polyline points="271.6,668.2 315.5,668.2 359.3,719.9 403.2,719.9 447.1,668.2 491.0,719.9 534.8,668.2 578.7,668.2 622.6,668.2 666.4,771.5 710.3,719.9 754.2,668.2 798.0,719.9 841.9,771.5 885.8,771.5 929.6,719.9 973.5,823.1 1017.4,823.1 1061.3,823.1 1105.1,823.1 1149.0,823.1 1192.9,823.1 1236.7,874.8 1280.6,874.8 1324.5,874.8 1368.3,874.8" stroke="#fde088" marker-mid="url(#mk6)"/>
</g>
<use href="#f5" x="486.2" y="731.7"/>
<use href="#f5" x="928.8" y="730.5"/>
<use href="#f12" x="1387.2" y="1029.7"/>
<use href="#f13" x="707.5" y="1248.5"/>
<use href="#f19" x="707.5" y="1661.4"/>
<use href="#f21" x="486.2" y="1508.2"/>
<use href="#f23" x="486.2" y="1706.3"/>
<use href="#f0" x="265.0" y="513.3"/>
<use href="#f0" x="486.2" y="513.3"/>
<use href="#f0" x="707.5" y="513.3"/>
<use href="#f0" x="928.8" y="513.3"/>
<use href="#f0" x="1150.0" y="513.3"/>
<use href="#f0" x="1371.2" y="513.3"/>
<use href="#f1" x="265.0" y="564.9"/>
<use href="#f1" x="486.2" y="616.6"/>
<use href="#f1" x="707.5" y="564.9"/>
<use href="#f1" x="928.8" y="616.6"/>
<use href="#f1" x="1150.0" y="668.2"/>
<use href="#f1" x="1371.2" y="616.6"/>
<use href="#f2" x="265.0" y="616.6"/>
<use href="#f2" x="486.2" y="564.9"/>
<use href="#f2" x="707.5" y="616.6"/>
<use href="#f2" x="928.8" y="564.9"/>
<use href="#f2" x="1150.0" y="564.9"/>
<use href="#f2" x="1371.2" y="564.9"/>
<use href="#f3" x="265.0" y="668.2"/>
<use href="#f3" x="486.2" y="719.9"/>
<use href="#f3" x="707.5" y="719.9"/>
<use href="#f3" x="928.8" y="715.3"/>
<use href="#f3" x="1150.0" y="823.1"/>
<use href="#f3" x="1371.2" y="874.8"/>
<use href="#f4" x="265.0" y="719.9"/>
<use href="#f4" x="486.2" y="668.2"/>
<use href="#f4" x="707.5" y="771.5"/>
<use href="#f4" x="928.8" y="668.2"/>
<use href="#f4" x="1150.0" y="771.5"/>
<use href="#f4" x="1371.2" y="719.9"/>
<use href="#f5" x="265.0" y="771.5"/>
<use href="#f5" x="707.5" y="668.2"/>
<use href="#f5" x="1150.0" y="616.6"/>
<use href="#f5" x="1371.2" y="668.2"/>
<use href="#f6" x="265.0" y="823.1"/>
<use href="#f6" x="486.2" y="823.1"/>
<use href="#f6" x="707.5" y="823.1"/>
<use href="#f6" x="928.8" y="874.8"/>
<use href="#f6" x="1150.0" y="874.8"/>
<use href="#f6" x="1371.2" y="823.1"/>
<use href="#f7" x="265.0" y="874.8"/>
<use href="#f7" x="486.2" y="874.8"/>
<use href="#f7" x="707.5" y="874.8"/>
<use href="#f7" x="928.8" y="823.1"/>
<use href="#f7" x="1150.0" y="719.9"/>
<use href="#f7" x="1371.2" y="771.5"/>
<use href="#f8" x="265.0" y="926.4"/>
<use href="#f8" x="486.2" y="1029.7"/>
<use href="#f8" x="707.5" y="1029.7"/>
<use href="#f8" x="928.8" y="1081.3"/>
<use href="#f8" x="1150.0" y="1133.0"/>
<use href="#f8" x="1371.2" y="1133.0"/>
<use href="#f9" x="265.0" y="978.1"/>
<use href="#f9" x="486.2" y="926.4"/>
<use href="#f9" x="707.5" y="926.4"/>
<use href="#f9" x="928.8" y="926.4"/>
<use href="#f9" x="1150.0" y="926.4"/>
<use href="#f9" x="1371.2" y="978.1"/>
<use href="#f10" x="265.0" y="1029.7"/>
<use href="#f10" x="486.2" y="978.1"/>
<use href="#f10" x="707.5" y="978.1"/>
<use href="#f10" x="928.8" y="978.1"/>
<use href="#f10" x="1150.0" y="1029.7"/>
<use href="#f10" x="1362.3" y="1029.7"/>
<use href="#f11" x="265.0" y="1081.3"/>
<use href="#f11" x="486.2" y="1133.0"/>
<use href="#f11" x="707.5" y="1133.0"/>
<use href="#f11" x="928.8" y="1133.0"/>
<use href="#f11" x="1150.0" y="1391.2"/>
<use href="#f11" x="1371.2" y="1236.3"/>
<use href="#f12" x="265.0" y="1133.0"/>
<use href="#f12" x="486.2" y="1081.3"/>
<use href="#f12" x="707.5" y="1081.3"/>
<use href="#f12" x="928.8" y="1236.3"/>
<use href="#f12" x="1150.0" y="1184.6"/>
<use href="#f13" x="265.0" y="1184.6"/>
<use href="#f13" x="486.2" y="1184.6"/>
<use href="#f13" x="928.8" y="1597.7"/>
<use href="#f13" x="1150.0" y="1804.3"/>
<use href="#f13" x="1371.2" y="1804.3"/>
<use href="#f14" x="265.0" y="1287.9"/>
<use href="#f14" x="486.2" y="1339.5"/>
<use href="#f14" x="707.5" y="1184.6"/>
<use href="#f14" x="928.8" y="1029.7"/>
<use href="#f14" x="1150.0" y="978.1"/>
<use href="#f14" x="1371.2" y="926.4"/>
<use href="#f15" x="265.0" y="1339.5"/>
<use href="#f15" x="486.2" y="1236.3"/>
<use href="#f15" x="707.5" y="1233.7"/>
<use href="#f15" x="928.8" y="1287.9"/>
<use href="#f15" x="1150.0" y="1236.3"/>
<use href="#f15" x="1371.2" y="1287.9"/>
<use href="#f16" x="265.0" y="1391.2"/>
<use href="#f16" x="486.2" y="1391.2"/>
<use href="#f16" x="707.5" y="1339.5"/>
<use href="#f16" x="928.8" y="1184.6"/>
<use href="#f16" x="1150.0" y="1081.3"/>
<use href="#f16" x="1371.2" y="1184.6"/>
<use href="#f17" x="265.0" y="1442.8"/>
<use href="#f17" x="486.2" y="1442.8"/>
<use href="#f17" x="707.5" y="1494.5"/>
<use href="#f17" x="928.8" y="1546.1"/>
<use href="#f17" x="1150.0" y="1541.6"/>
<use href="#f17" x="1371.2" y="1648.5"/>
<use href="#f18" x="265.0" y="1494.5"/>
<use href="#f18" x="486.2" y="1494.5"/>
<use href="#f18" x="707.5" y="1442.8"/>
<use href="#f18" x="928.8" y="1337.3"/>
<use href="#f18" x="1150.0" y="1597.7"/>
<use href="#f18" x="1371.2" y="1701.0"/>
<use href="#f19" x="265.0" y="1546.1"/>
<use href="#f19" x="486.2" y="1597.7"/>
<use href="#f19" x="928.8" y="1752.7"/>
<use href="#f19" x="1150.0" y="1752.7"/>
<use href="#f19" x="1371.2" y="1594.6"/>
<use href="#f20" x="265.0" y="1597.7"/>
<use href="#f20" x="486.2" y="1692.0"/>
<use href="#f20" x="707.5" y="1597.7"/>
<use href="#f20" x="928.8" y="1649.4"/>
<use href="#f20" x="1150.0" y="1440.0"/>
<use href="#f20" x="1371.2" y="1440.2"/>
<use href="#f21" x="265.0" y="1649.4"/>
<use href="#f21" x="707.5" y="1546.1"/>
<use href="#f21" x="928.8" y="1441.3"/>
<use href="#f21" x="1150.0" y="1339.5"/>
<use href="#f21" x="1371.2" y="1487.9"/>
<use href="#f22" x="265.0" y="1701.0"/>
<use href="#f22" x="486.2" y="1649.4"/>
<use href="#f22" x="707.5" y="1649.4"/>
<use href="#f22" x="928.8" y="1494.5"/>
<use href="#f22" x="1150.0" y="1287.9"/>
<use href="#f22" x="1371.2" y="1336.0"/>
<use href="#f23" x="265.0" y="1752.7"/>
<use href="#f23" x="707.5" y="1752.7"/>
<use href="#f23" x="928.8" y="1701.0"/>
<use href="#f23" x="1150.0" y="1701.0"/>
<use href="#f23" x="1371.2" y="1752.7"/>
<use href="#f24" x="265.0" y="1804.3"/>
<use href="#f24" x="486.2" y="1804.3"/>
<use href="#f24" x="707.5" y="1855.9"/>
<use href="#f24" x="928.8" y="1855.9"/>
<use href="#f24" x="1150.0" y="1855.9"/>
<use href="#f24" x="1371.2" y="1855.9"/>
<use href="#f25" x="265.0" y="1855.9"/>
<use href="#f25" x="486.2" y="1855.9"/>
<use href="#f25" x="707.5" y="1804.3"/>
<use href="#f25" x="928.8" y="1804.3"/>
<use href="#f25" x="1150.0" y="1649.4"/>
<use href="#f25" x="1371.2" y="1544.3"/>
<polyline points="261.3,1236.3 315.5,1236.3 359.3,1236.3 403.2,1339.5 447.1,1339.5 483.1,1287.3 534.8,1287.9 578.7,1339.5 622.6,1339.5 666.4,1391.2 707.2,1390.5 754.2,1339.5 798.0,1391.2 841.9,1339.5 885.8,1442.8 928.0,1394.9 973.5,1339.5 1017.4,1442.8 1061.3,1442.8 1105.1,1442.8 1149.8,1490.8 1192.9,1546.1 1236.7,1494.5 1280.6,1391.2 1324.5,1391.2 1372.7,1391.4" fill="none" stroke="#c20f2a" stroke-width="31" stroke-linejoin="round" stroke-linecap="round"/>
<polyline points="261.3,1236.3 315.5,1236.3 359.3,1236.3 403.2,1339.5 447.1,1339.5 483.1,1287.3 534.8,1287.9 578.7,1339.5 622.6,1339.5 666.4,1391.2 707.2,1390.5 754.2,1339.5 798.0,1391.2 841.9,1339.5 885.8,1442.8 928.0,1394.9 973.5,1339.5 1017.4,1442.8 1061.3,1442.8 1105.1,1442.8 1149.8,1490.8 1192.9,1546.1 1236.7,1494.5 1280.6,1391.2 1324.5,1391.2 1372.7,1391.4" fill="none" stroke="#e4002b" stroke-width="28" stroke-linejoin="round" stroke-linecap="round"/>
<circle cx="315.5" cy="1236.3" r="7" fill="#fdf2f4" stroke="#c20f2a" stroke-width=".8"/>
<circle cx="359.3" cy="1236.3" r="7" fill="#fdf2f4" stroke="#c20f2a" stroke-width=".8"/>
<circle cx="403.2" cy="1339.5" r="7" fill="#fdf2f4" stroke="#c20f2a" stroke-width=".8"/>
<circle cx="447.1" cy="1339.5" r="7" fill="#fdf2f4" stroke="#c20f2a" stroke-width=".8"/>
<circle cx="534.8" cy="1287.9" r="7" fill="#fdf2f4" stroke="#c20f2a" stroke-width=".8"/>
<circle cx="578.7" cy="1339.5" r="7" fill="#fdf2f4" stroke="#c20f2a" stroke-width=".8"/>
<circle cx="622.6" cy="1339.5" r="7" fill="#fdf2f4" stroke="#c20f2a" stroke-width=".8"/>
<circle cx="666.4" cy="1391.2" r="7" fill="#fdf2f4" stroke="#c20f2a" stroke-width=".8"/>
<circle cx="754.2" cy="1339.5" r="7" fill="#fdf2f4" stroke="#c20f2a" stroke-width=".8"/>
<circle cx="798.0" cy="1391.2" r="7" fill="#fdf2f4" stroke="#c20f2a" stroke-width=".8"/>
<circle cx="841.9" cy="1339.5" r="7" fill="#fdf2f4" stroke="#c20f2a" stroke-width=".8"/>
<circle cx="885.8" cy="1442.8" r="7" fill="#fdf2f4" stroke="#c20f2a" stroke-width=".8"/>
<circle cx="973.5" cy="1339.5" r="7" fill="#fdf2f4" stroke="#c20f2a" stroke-width=".8"/>
<circle cx="1017.4" cy="1442.8" r="7" fill="#fdf2f4" stroke="#c20f2a" stroke-width=".8"/>
<circle cx="1061.3" cy="1442.8" r="7" fill="#fdf2f4" stroke="#c20f2a" stroke-width=".8"/>
<circle cx="1105.1" cy="1442.8" r="7" fill="#fdf2f4" stroke="#c20f2a" stroke-width=".8"/>
<circle cx="1192.9" cy="1546.1" r="7" fill="#fdf2f4" stroke="#c20f2a" stroke-width=".8"/>
<circle cx="1236.7" cy="1494.5" r="7" fill="#fdf2f4" stroke="#c20f2a" stroke-width=".8"/>
<circle cx="1280.6" cy="1391.2" r="7" fill="#fdf2f4" stroke="#c20f2a" stroke-width=".8"/>
<circle cx="1324.5" cy="1391.2" r="7" fill="#fdf2f4" stroke="#c20f2a" stroke-width=".8"/>
<use href="#f14" x="486.2" y="1339.5"/>
<use href="#f21" x="928.8" y="1441.3"/>
<use href="#f18" x="928.8" y="1337.3"/>
<use href="#f16" x="707.5" y="1339.5"/>
<rect x="224.7" y="1209.1" width="73.2" height="59.4" rx="29" fill="#5a2030" opacity=".13"/>
<rect x="228.0" y="1209.9" width="66.60000000000001" height="52.8" rx="25.5" fill="#fbecef" stroke="#b91127" stroke-width="3.6"/>
<text x="233.7" y="1251.86" font-family="'Liberation Sans', sans-serif" font-size="44" font-weight="bold" fill="#b91127" text-anchor="start" textLength="41.5" lengthAdjust="spacingAndGlyphs" stroke="#b91127" stroke-width="1.1" stroke-linejoin="round">15.</text>
<text x="277.3" y="1248.46" font-family="'Liberation Sans', sans-serif" font-size="36" font-weight="bold" fill="#b91127" text-anchor="start" textLength="9.2" lengthAdjust="spacingAndGlyphs">º</text>
<rect x="445.9" y="1260.1" width="74.4" height="59.4" rx="29" fill="#5a2030" opacity=".13"/>
<rect x="449.2" y="1260.9" width="67.80000000000001" height="52.8" rx="25.5" fill="#fbecef" stroke="#b91127" stroke-width="3.6"/>
<text x="455.5" y="1302.9" font-family="'Liberation Sans', sans-serif" font-size="44" font-weight="bold" fill="#b91127" text-anchor="start" textLength="41.5" lengthAdjust="spacingAndGlyphs" stroke="#b91127" stroke-width="1.1" stroke-linejoin="round">16.</text>
<text x="499.1" y="1299.5" font-family="'Liberation Sans', sans-serif" font-size="36" font-weight="bold" fill="#b91127" text-anchor="start" textLength="9.2" lengthAdjust="spacingAndGlyphs">º</text>
<rect x="670.5" y="1363.3" width="73.4" height="59.4" rx="29" fill="#5a2030" opacity=".13"/>
<rect x="673.8" y="1364.1" width="66.80000000000001" height="52.8" rx="25.5" fill="#fbecef" stroke="#b91127" stroke-width="3.6"/>
<text x="679.6" y="1406.08" font-family="'Liberation Sans', sans-serif" font-size="44" font-weight="bold" fill="#b91127" text-anchor="start" textLength="41.5" lengthAdjust="spacingAndGlyphs" stroke="#b91127" stroke-width="1.1" stroke-linejoin="round">18.</text>
<text x="723.2" y="1402.68" font-family="'Liberation Sans', sans-serif" font-size="36" font-weight="bold" fill="#b91127" text-anchor="start" textLength="9.2" lengthAdjust="spacingAndGlyphs">º</text>
<rect x="890.6" y="1367.7" width="74.8" height="59.4" rx="29" fill="#5a2030" opacity=".13"/>
<rect x="893.9" y="1368.5" width="68.2" height="52.8" rx="25.5" fill="#fbecef" stroke="#b91127" stroke-width="3.6"/>
<text x="900.4" y="1410.48" font-family="'Liberation Sans', sans-serif" font-size="44" font-weight="bold" fill="#b91127" text-anchor="start" textLength="41.5" lengthAdjust="spacingAndGlyphs" stroke="#b91127" stroke-width="1.1" stroke-linejoin="round">18.</text>
<text x="944" y="1407.08" font-family="'Liberation Sans', sans-serif" font-size="36" font-weight="bold" fill="#b91127" text-anchor="start" textLength="9.2" lengthAdjust="spacingAndGlyphs">º</text>
<rect x="1111.5" y="1463.6" width="76.6" height="59.4" rx="29" fill="#5a2030" opacity=".13"/>
<rect x="1114.8" y="1464.4" width="70.0" height="52.8" rx="25.5" fill="#fbecef" stroke="#b91127" stroke-width="3.6"/>
<text x="1122.2" y="1506.36" font-family="'Liberation Sans', sans-serif" font-size="44" font-weight="bold" fill="#b91127" text-anchor="start" textLength="41.5" lengthAdjust="spacingAndGlyphs" stroke="#b91127" stroke-width="1.1" stroke-linejoin="round">20.</text>
<text x="1165.8" y="1502.96" font-family="'Liberation Sans', sans-serif" font-size="36" font-weight="bold" fill="#b91127" text-anchor="start" textLength="9.2" lengthAdjust="spacingAndGlyphs">º</text>
<rect x="1336.4" y="1364.2" width="72.6" height="59.4" rx="29" fill="#5a2030" opacity=".13"/>
<rect x="1339.7" y="1365.0" width="66.0" height="52.8" rx="25.5" fill="#fbecef" stroke="#b91127" stroke-width="3.6"/>
<text x="1345.1" y="1406.98" font-family="'Liberation Sans', sans-serif" font-size="44" font-weight="bold" fill="#b91127" text-anchor="start" textLength="41.5" lengthAdjust="spacingAndGlyphs" stroke="#b91127" stroke-width="1.1" stroke-linejoin="round">18.</text>
<text x="1388.7" y="1403.58" font-family="'Liberation Sans', sans-serif" font-size="36" font-weight="bold" fill="#b91127" text-anchor="start" textLength="9.2" lengthAdjust="spacingAndGlyphs">º</text>
<text x="230.9" y="527.9" font-family="'Liberation Sans', sans-serif" font-size="42" font-weight="normal" fill="#4a8ad4" text-anchor="end" textLength="113.715" lengthAdjust="spacingAndGlyphs">Luxemb.</text>
<text x="1407.2" y="527.9" font-family="'Liberation Sans', sans-serif" font-size="42" font-weight="normal" fill="#4a8ad4" text-anchor="start" textLength="113.715" lengthAdjust="spacingAndGlyphs">Luxemb.</text>
<text x="230.9" y="579.54" font-family="'Liberation Sans', sans-serif" font-size="42" font-weight="normal" fill="#3f74bd" text-anchor="end" textLength="122.745" lengthAdjust="spacingAndGlyphs">P. Baixos</text>
<text x="1407.2" y="631.18" font-family="'Liberation Sans', sans-serif" font-size="42" font-weight="normal" fill="#3f74bd" text-anchor="start" textLength="122.745" lengthAdjust="spacingAndGlyphs">P. Baixos</text>
<text x="230.9" y="631.18" font-family="'Liberation Sans', sans-serif" font-size="42" font-weight="normal" fill="#6fa23e" text-anchor="end" textLength="94.71" lengthAdjust="spacingAndGlyphs">Irlanda</text>
<text x="1407.2" y="579.54" font-family="'Liberation Sans', sans-serif" font-size="42" font-weight="normal" fill="#6fa23e" text-anchor="start" textLength="94.71" lengthAdjust="spacingAndGlyphs">Irlanda</text>
<text x="230.9" y="682.82" font-family="'Liberation Sans', sans-serif" font-size="42" font-weight="normal" fill="#e6b432" text-anchor="end" textLength="90.405" lengthAdjust="spacingAndGlyphs">Suécia</text>
<text x="1407.2" y="889.38" font-family="'Liberation Sans', sans-serif" font-size="42" font-weight="normal" fill="#e6b432" text-anchor="start" textLength="90.405" lengthAdjust="spacingAndGlyphs">Suécia</text>
<text x="230.9" y="734.46" font-family="'Liberation Sans', sans-serif" font-size="42" font-weight="normal" fill="#c4122f" text-anchor="end" textLength="96.495" lengthAdjust="spacingAndGlyphs">Áustria</text>
<text x="1407.2" y="734.46" font-family="'Liberation Sans', sans-serif" font-size="42" font-weight="normal" fill="#c4122f" text-anchor="start" textLength="96.495" lengthAdjust="spacingAndGlyphs">Áustria</text>
<text x="230.9" y="786.1" font-family="'Liberation Sans', sans-serif" font-size="42" font-weight="normal" fill="#c4122f" text-anchor="end" textLength="146.055" lengthAdjust="spacingAndGlyphs">Dinamarca</text>
<text x="1407.2" y="682.82" font-family="'Liberation Sans', sans-serif" font-size="42" font-weight="normal" fill="#c4122f" text-anchor="start" textLength="146.055" lengthAdjust="spacingAndGlyphs">Dinamarca</text>
<text x="230.9" y="837.74" font-family="'Liberation Sans', sans-serif" font-size="42" font-weight="normal" fill="#000000" text-anchor="end" textLength="100.485" lengthAdjust="spacingAndGlyphs">Bélgica</text>
<text x="1407.2" y="837.74" font-family="'Liberation Sans', sans-serif" font-size="42" font-weight="normal" fill="#000000" text-anchor="start" textLength="100.485" lengthAdjust="spacingAndGlyphs">Bélgica</text>
<text x="230.9" y="889.38" font-family="'Liberation Sans', sans-serif" font-size="42" font-weight="normal" fill="#000000" text-anchor="end" textLength="135.975" lengthAdjust="spacingAndGlyphs">Alemanha</text>
<text x="1407.2" y="786.1" font-family="'Liberation Sans', sans-serif" font-size="42" font-weight="normal" fill="#000000" text-anchor="start" textLength="135.975" lengthAdjust="spacingAndGlyphs">Alemanha</text>
<text x="230.9" y="941.02" font-family="'Liberation Sans', sans-serif" font-size="42" font-weight="normal" fill="#6fa23e" text-anchor="end" textLength="67.83" lengthAdjust="spacingAndGlyphs">Itália</text>
<text x="1407.2" y="1147.58" font-family="'Liberation Sans', sans-serif" font-size="42" font-weight="normal" fill="#6fa23e" text-anchor="start" textLength="67.83" lengthAdjust="spacingAndGlyphs">Itália</text>
<text x="230.9" y="992.66" font-family="'Liberation Sans', sans-serif" font-size="42" font-weight="normal" fill="#1f4e9e" text-anchor="end" textLength="124.53" lengthAdjust="spacingAndGlyphs">Finlândia</text>
<text x="1407.2" y="992.66" font-family="'Liberation Sans', sans-serif" font-size="42" font-weight="normal" fill="#1f4e9e" text-anchor="start" textLength="124.53" lengthAdjust="spacingAndGlyphs">Finlândia</text>
<text x="230.9" y="1044.3" font-family="'Liberation Sans', sans-serif" font-size="42" font-weight="normal" fill="#1f4e9e" text-anchor="end" textLength="92.19" lengthAdjust="spacingAndGlyphs">França</text>
<text x="1407.2" y="1044.3" font-family="'Liberation Sans', sans-serif" font-size="42" font-weight="normal" fill="#1f4e9e" text-anchor="start" textLength="92.19" lengthAdjust="spacingAndGlyphs">França</text>
<text x="230.9" y="1095.94" font-family="'Liberation Sans', sans-serif" font-size="42" font-weight="normal" fill="#e6b432" text-anchor="end" textLength="113.715" lengthAdjust="spacingAndGlyphs">Espanha</text>
<text x="1407.2" y="1250.86" font-family="'Liberation Sans', sans-serif" font-size="42" font-weight="normal" fill="#e6b432" text-anchor="start" textLength="113.715" lengthAdjust="spacingAndGlyphs">Espanha</text>
<text x="230.9" y="1147.58" font-family="'Liberation Sans', sans-serif" font-size="42" font-weight="normal" fill="#6fa23e" text-anchor="end" textLength="87.57" lengthAdjust="spacingAndGlyphs">Chipre</text>
<text x="1407.2" y="1080" font-family="'Liberation Sans', sans-serif" font-size="42" font-weight="normal" fill="#6fa23e" text-anchor="start" textLength="87.57" lengthAdjust="spacingAndGlyphs">Chipre</text>
<text x="230.9" y="1199.22" font-family="'Liberation Sans', sans-serif" font-size="42" font-weight="normal" fill="#4a8ad4" text-anchor="end" textLength="86.205" lengthAdjust="spacingAndGlyphs">Grécia</text>
<text x="1407.2" y="1818.9" font-family="'Liberation Sans', sans-serif" font-size="42" font-weight="normal" fill="#4a8ad4" text-anchor="start" textLength="86.205" lengthAdjust="spacingAndGlyphs">Grécia</text>
<text x="213.5" y="1254.56" font-family="'Liberation Sans', sans-serif" font-size="43.7" font-weight="bold" fill="#d0102c" text-anchor="end" textLength="146.3" lengthAdjust="spacingAndGlyphs">Portugal</text>
<text x="1421" y="1409.48" font-family="'Liberation Sans', sans-serif" font-size="43.7" font-weight="bold" fill="#d0102c" text-anchor="start" textLength="146.3" lengthAdjust="spacingAndGlyphs">Portugal</text>
<text x="230.9" y="1302.5" font-family="'Liberation Sans', sans-serif" font-size="42" font-weight="normal" fill="#c4122f" text-anchor="end" textLength="74.655" lengthAdjust="spacingAndGlyphs">Malta</text>
<text x="1407.2" y="941.02" font-family="'Liberation Sans', sans-serif" font-size="42" font-weight="normal" fill="#c4122f" text-anchor="start" textLength="74.655" lengthAdjust="spacingAndGlyphs">Malta</text>
<text x="230.9" y="1354.14" font-family="'Liberation Sans', sans-serif" font-size="42" font-weight="normal" fill="#1f4e9e" text-anchor="end" textLength="129.675" lengthAdjust="spacingAndGlyphs">Eslovénia</text>
<text x="1407.2" y="1302.5" font-family="'Liberation Sans', sans-serif" font-size="42" font-weight="normal" fill="#1f4e9e" text-anchor="start" textLength="129.675" lengthAdjust="spacingAndGlyphs">Eslovénia</text>
<text x="230.9" y="1405.78" font-family="'Liberation Sans', sans-serif" font-size="42" font-weight="normal" fill="#1f4e9e" text-anchor="end" textLength="110.46" lengthAdjust="spacingAndGlyphs">Chéquia</text>
<text x="1407.2" y="1199.22" font-family="'Liberation Sans', sans-serif" font-size="42" font-weight="normal" fill="#1f4e9e" text-anchor="start" textLength="110.46" lengthAdjust="spacingAndGlyphs">Chéquia</text>
<text x="230.9" y="1457.42" font-family="'Liberation Sans', sans-serif" font-size="42" font-weight="normal" fill="#c4122f" text-anchor="end" textLength="105.84" lengthAdjust="spacingAndGlyphs">Hungria</text>
<text x="1407.2" y="1663.98" font-family="'Liberation Sans', sans-serif" font-size="42" font-weight="normal" fill="#c4122f" text-anchor="start" textLength="105.84" lengthAdjust="spacingAndGlyphs">Hungria</text>
<text x="230.9" y="1509.06" font-family="'Liberation Sans', sans-serif" font-size="42" font-weight="normal" fill="#1f4e9e" text-anchor="end" textLength="147" lengthAdjust="spacingAndGlyphs">Eslováquia</text>
<text x="1407.2" y="1715.62" font-family="'Liberation Sans', sans-serif" font-size="42" font-weight="normal" fill="#1f4e9e" text-anchor="start" textLength="147" lengthAdjust="spacingAndGlyphs">Eslováquia</text>
<text x="230.9" y="1560.7" font-family="'Liberation Sans', sans-serif" font-size="42" font-weight="normal" fill="#1f4e9e" text-anchor="end" textLength="102.69" lengthAdjust="spacingAndGlyphs">Croácia</text>
<text x="1407.2" y="1612.34" font-family="'Liberation Sans', sans-serif" font-size="42" font-weight="normal" fill="#1f4e9e" text-anchor="start" textLength="102.69" lengthAdjust="spacingAndGlyphs">Croácia</text>
<text x="230.9" y="1612.34" font-family="'Liberation Sans', sans-serif" font-size="42" font-weight="normal" fill="#c4122f" text-anchor="end" textLength="101.955" lengthAdjust="spacingAndGlyphs">Polónia</text>
<text x="1407.2" y="1457.42" font-family="'Liberation Sans', sans-serif" font-size="42" font-weight="normal" fill="#c4122f" text-anchor="start" textLength="101.955" lengthAdjust="spacingAndGlyphs">Polónia</text>
<text x="230.9" y="1663.98" font-family="'Liberation Sans', sans-serif" font-size="42" font-weight="normal" fill="#000000" text-anchor="end" textLength="99.645" lengthAdjust="spacingAndGlyphs">Estónia</text>
<text x="1407.2" y="1509.06" font-family="'Liberation Sans', sans-serif" font-size="42" font-weight="normal" fill="#000000" text-anchor="start" textLength="99.645" lengthAdjust="spacingAndGlyphs">Estónia</text>
<text x="230.9" y="1715.62" font-family="'Liberation Sans', sans-serif" font-size="42" font-weight="normal" fill="#6fa23e" text-anchor="end" textLength="108.465" lengthAdjust="spacingAndGlyphs">Lituânia</text>
<text x="1407.2" y="1354.14" font-family="'Liberation Sans', sans-serif" font-size="42" font-weight="normal" fill="#6fa23e" text-anchor="start" textLength="108.465" lengthAdjust="spacingAndGlyphs">Lituânia</text>
<text x="230.9" y="1767.26" font-family="'Liberation Sans', sans-serif" font-size="42" font-weight="normal" fill="#c4122f" text-anchor="end" textLength="100.8" lengthAdjust="spacingAndGlyphs">Letónia</text>
<text x="1407.2" y="1767.26" font-family="'Liberation Sans', sans-serif" font-size="42" font-weight="normal" fill="#c4122f" text-anchor="start" textLength="100.8" lengthAdjust="spacingAndGlyphs">Letónia</text>
<text x="230.9" y="1818.9" font-family="'Liberation Sans', sans-serif" font-size="42" font-weight="normal" fill="#4d7a2a" text-anchor="end" textLength="114.24" lengthAdjust="spacingAndGlyphs">Bulgária</text>
<text x="1407.2" y="1870.54" font-family="'Liberation Sans', sans-serif" font-size="42" font-weight="normal" fill="#4d7a2a" text-anchor="start" textLength="114.24" lengthAdjust="spacingAndGlyphs">Bulgária</text>
<text x="230.9" y="1870.54" font-family="'Liberation Sans', sans-serif" font-size="42" font-weight="normal" fill="#e6b432" text-anchor="end" textLength="118.125" lengthAdjust="spacingAndGlyphs">Roménia</text>
<text x="1407.2" y="1560.7" font-family="'Liberation Sans', sans-serif" font-size="42" font-weight="normal" fill="#e6b432" text-anchor="start" textLength="118.125" lengthAdjust="spacingAndGlyphs">Roménia</text>
<text x="41" y="1972.5" font-family="'Liberation Sans', sans-serif" font-size="33.5" font-weight="normal" fill="#7d7d7d" text-anchor="start" textLength="580" lengthAdjust="spacingAndGlyphs">Fonte: Eurostat (números de 2025 ainda são provisórios)</text>
<text x="41" y="2014" font-family="'Liberation Sans', sans-serif" font-size="33.5" font-weight="normal" fill="#7d7d7d" text-anchor="start" textLength="330" lengthAdjust="spacingAndGlyphs">Produzido a 28 de abril de 2024</text>
<text x="379.5" y="2011.5" font-family="'DejaVu Sans', sans-serif" font-size="24" font-weight="normal" fill="#555555" text-anchor="start">▸</text>
<text x="397.5" y="2014" font-family="'Liberation Sans', sans-serif" font-size="33.5" font-weight="normal" fill="#4a4a4a" text-anchor="start" textLength="137.5" lengthAdjust="spacingAndGlyphs" font-style="italic">maisfactos.pt</text>
<text x="1364.3" y="1995" font-family="'Liberation Sans', sans-serif" font-size="55" font-weight="bold" fill="#000000" text-anchor="middle" stroke="#000" stroke-width="3.6" stroke-linejoin="round">+</text>
<text x="1393" y="1996.7" font-family="'Liberation Serif', serif" font-size="78" font-weight="bold" fill="#000000" text-anchor="start" textLength="197" lengthAdjust="spacingAndGlyphs">factos</text>
</svg></body></html>
